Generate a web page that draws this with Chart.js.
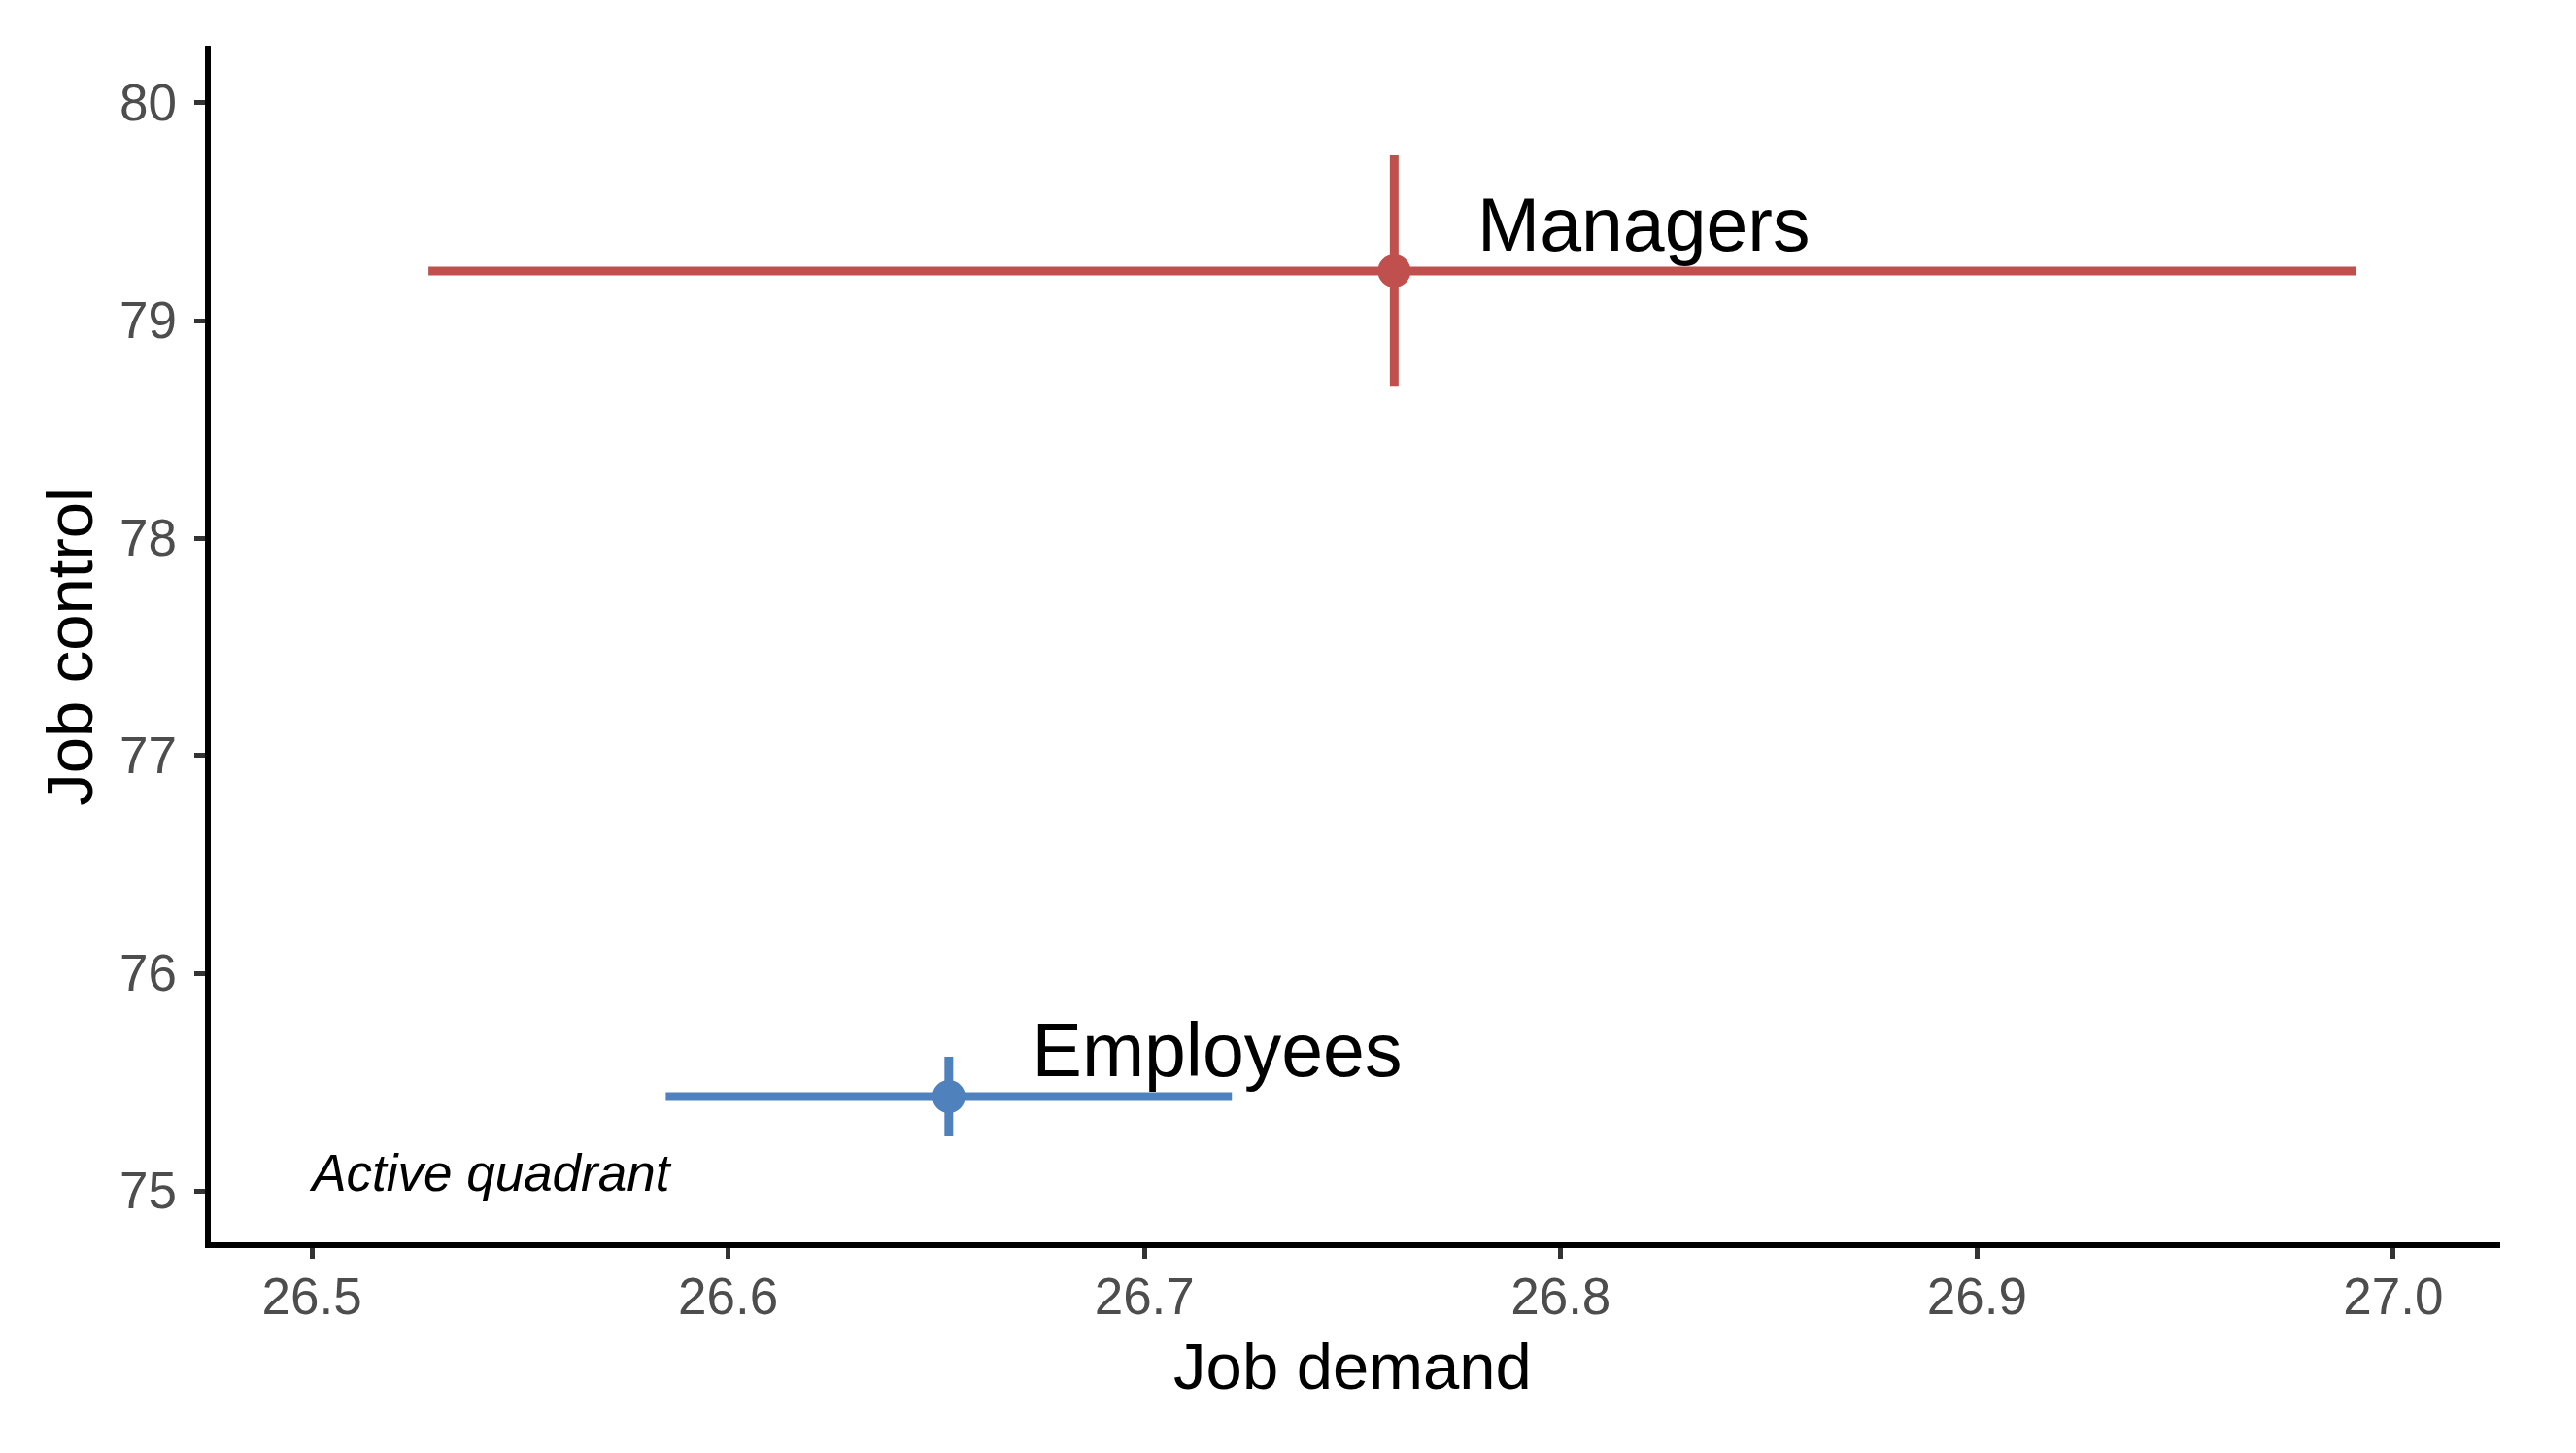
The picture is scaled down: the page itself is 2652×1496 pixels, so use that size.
<!DOCTYPE html>
<html>
<head>
<meta charset="utf-8">
<title>Job demand vs job control</title>
<script src="https://cdn.jsdelivr.net/npm/chart.js@4"></script>
<style>
    html, body { margin: 0; padding: 0; background: #ffffff; }
    #wrap { width: 2652px; height: 1496px; position: relative; }
</style>
</head>
<body>
<div id="wrap"><canvas id="quadrantChart"></canvas></div>
<script>
// ---------- data ----------
const groups = ["Managers", "Employees"];
const demandMean = [26.760, 26.653];
const demandLow = [26.528, 26.585];
const demandHigh = [26.991, 26.721];
const controlMean = [79.228, 75.433];
const controlLow = [78.700, 75.250];
const controlHigh = [79.759, 75.616];
const groupColors = ["#C0504D", "#4F81BD"];

const xTicks = [26.5, 26.6, 26.7, 26.8, 26.9, 27.0];
const xTickLabels = ["26.5", "26.6", "26.7", "26.8", "26.9", "27.0"];
const yTicks = [75, 76, 77, 78, 79, 80];
const yTickLabels = ["75", "76", "77", "78", "79", "80"];

const quadrantNote = "Active quadrant";
const noteAt = { x: 26.5, y: 75.0 };

const FONT = "'Liberation Sans', Arial, Helvetica, sans-serif";

// ---------- datasets: error bars + means ----------
const datasets = [];
groups.forEach((name, i) => {
    datasets.push({
        label: name + " demand CI",
        data: [{ x: demandLow[i], y: controlMean[i] }, { x: demandHigh[i], y: controlMean[i] }],
        showLine: true,
        borderColor: groupColors[i],
        borderWidth: 9,
        pointRadius: 0
    });
    datasets.push({
        label: name + " control CI",
        data: [{ x: demandMean[i], y: controlLow[i] }, { x: demandMean[i], y: controlHigh[i] }],
        showLine: true,
        borderColor: groupColors[i],
        borderWidth: 9,
        pointRadius: 0
    });
    datasets.push({
        label: name,
        data: [{ x: demandMean[i], y: controlMean[i] }],
        backgroundColor: groupColors[i],
        borderWidth: 0,
        pointRadius: 17
    });
});

// group names and the quadrant note, placed through the scales
const textLabels = {
    id: "textLabels",
    afterDatasetsDraw(chart) {
        const { ctx, scales: { x, y } } = chart;
        ctx.save();
        ctx.fillStyle = "#000000";
        ctx.textAlign = "left";
        ctx.textBaseline = "alphabetic";
        ctx.font = "77px " + FONT;
        groups.forEach((name, i) => {
            // same nudge for both labels (up and to the right of the mean)
            ctx.fillText(name, x.getPixelForValue(demandMean[i] + 0.020), y.getPixelForValue(controlMean[i] + 0.094));
        });
        ctx.font = "italic 53px " + FONT;
        ctx.fillText(quadrantNote, x.getPixelForValue(noteAt.x), y.getPixelForValue(noteAt.y));
        ctx.restore();
    }
};

new Chart(document.getElementById("quadrantChart"), {
    type: "scatter",
    data: { datasets: datasets },
    plugins: [textLabels],
    options: {
        responsive: true,
        maintainAspectRatio: false,
        animation: false,
        layout: { padding: { top: 50, right: 81, bottom: 0, left: 0 } },
        plugins: {
            legend: { display: false },
            tooltip: { enabled: false }
        },
        scales: {
            x: {
                type: "linear",
                min: 26.475,
                max: 27.025,
                afterBuildTicks: scale => { scale.ticks = xTicks.map(v => ({ value: v })); },
                afterFit: scale => { scale.height = 214; },
                ticks: {
                    callback: (v, i) => xTickLabels[i],
                    color: "#4D4D4D",
                    font: { family: FONT, size: 53 },
                    padding: 11,
                    maxRotation: 0
                },
                grid: {
                    drawOnChartArea: false,
                    drawTicks: true,
                    tickLength: 14,
                    color: "#333333",
                    lineWidth: 5
                },
                border: { display: true, color: "#000000", width: 6 },
                title: {
                    display: true,
                    text: "Job demand",
                    color: "#000000",
                    font: { family: FONT, size: 67 },
                    padding: { top: 0, bottom: 44 }
                }
            },
            y: {
                type: "linear",
                min: 74.75,
                max: 80.25,
                afterBuildTicks: scale => { scale.ticks = yTicks.map(v => ({ value: v })); },
                afterFit: scale => { scale.width = 214; },
                ticks: {
                    callback: (v, i) => yTickLabels[i],
                    color: "#4D4D4D",
                    font: { family: FONT, size: 53 },
                    padding: 18,
                    labelOffset: 3
                },
                grid: {
                    drawOnChartArea: false,
                    drawTicks: true,
                    tickLength: 14,
                    color: "#333333",
                    lineWidth: 5
                },
                border: { display: true, color: "#000000", width: 6 },
                title: {
                    display: true,
                    text: "Job control",
                    color: "#000000",
                    font: { family: FONT, size: 67 },
                    padding: { top: 36, bottom: 0 }
                }
            }
        }
    }
});
</script>
</body>
</html>
